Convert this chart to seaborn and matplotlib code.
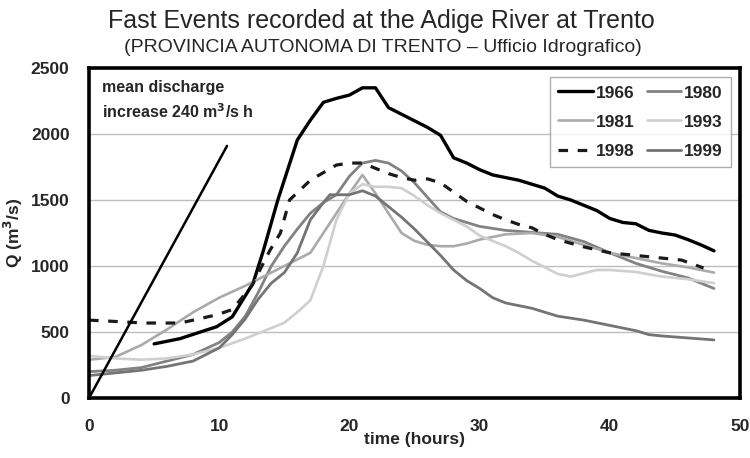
import numpy as np
import pandas as pd
import matplotlib
matplotlib.use("Agg")
import matplotlib.pyplot as plt
import seaborn as sns

# values (time in hours, Q in m3/s)
t_1966 = [5, 7, 9.8, 11, 12.6, 13.4, 14.5, 16, 17, 18, 19, 20, 21, 22, 23, 24, 25, 26, 27, 28, 29, 30, 31, 32, 33, 34, 35, 36, 37, 38, 39, 40, 41, 42, 43, 44, 45, 46, 47, 48]
q_1966 = [410, 450, 540, 615, 870, 1120, 1500, 1955, 2105, 2240, 2270, 2295, 2350, 2350, 2200, 2150, 2100, 2050, 1990, 1820, 1780, 1730, 1690, 1670, 1650, 1620, 1590, 1530, 1500, 1460, 1420, 1360, 1330, 1320, 1270, 1250, 1235, 1200, 1160, 1115]

t_1980 = [0, 2, 4, 6, 8, 10, 11, 12, 13, 14, 15, 16, 17, 18, 19, 20, 21, 22, 23, 24, 25, 26, 27, 28, 29, 30, 32, 34, 36, 38, 40, 42, 44, 46, 48]
q_1980 = [200, 210, 230, 280, 330, 420, 500, 620, 800, 1000, 1150, 1280, 1400, 1480, 1540, 1680, 1780, 1800, 1780, 1720, 1630, 1520, 1410, 1360, 1330, 1300, 1270, 1255, 1240, 1185, 1100, 1020, 960, 910, 830]

t_1981 = [0, 2, 4, 6, 8, 10, 12, 14, 16, 17, 18, 19, 20, 21, 22, 23, 24, 25, 26, 27, 28, 29, 30, 32, 34, 36, 38, 40, 42, 44, 46, 48]
q_1981 = [290, 310, 400, 520, 650, 760, 850, 950, 1050, 1100, 1250, 1400, 1550, 1690, 1550, 1400, 1250, 1190, 1160, 1150, 1150, 1170, 1200, 1240, 1250, 1220, 1160, 1100, 1060, 1020, 990, 950]

t_1993 = [0, 2, 4, 6, 8, 10, 12, 14, 15, 16, 17, 18, 19, 20, 21, 22, 23, 24, 25, 26, 27, 28, 29, 30, 31, 32, 33, 34, 35, 36, 37, 38, 39, 40, 42, 44, 46, 48]
q_1993 = [320, 300, 290, 300, 330, 380, 450, 530, 570, 650, 740, 1000, 1350, 1550, 1620, 1600, 1600, 1590, 1530, 1460, 1400, 1350, 1300, 1230, 1190, 1150, 1100, 1040, 990, 940, 920, 945, 970, 970, 955, 920, 900, 870]

t_1998 = [0, 2, 4.2, 7, 9.8, 11, 12.5, 13.9, 14.7, 15.4, 17, 19, 20, 21, 22, 23, 24, 25, 26, 27, 28, 29, 30, 31, 32, 33, 34, 35, 36, 38, 40, 43, 45.5, 47.2]
q_1998 = [590, 580, 568, 568, 630, 670, 850, 1120, 1250, 1500, 1650, 1765, 1780, 1780, 1740, 1700, 1670, 1650, 1660, 1630, 1560, 1490, 1440, 1390, 1350, 1315, 1290, 1240, 1200, 1145, 1100, 1070, 1045, 985]

t_1999 = [0, 2, 4, 6, 8, 10, 11, 12, 13, 14, 15, 16, 17, 18, 18.5, 20, 21, 22, 23, 24, 25, 26, 27, 28, 29, 30, 31, 32, 34, 36, 38, 40, 42, 43, 44, 46, 48]
q_1999 = [170, 190, 210, 240, 280, 380, 480, 600, 750, 870, 950, 1100, 1350, 1480, 1540, 1540, 1570, 1530, 1450, 1370, 1280, 1180, 1080, 970, 890, 830, 760, 720, 680, 620, 590, 550, 510, 480, 470, 455, 440]

t_mean = [0, 10.6]
q_mean = [0, 1910]

years = ["1966", "1980", "1981", "1993", "1998", "1999"]
series_t = [t_1966, t_1980, t_1981, t_1993, t_1998, t_1999]
series_q = [q_1966, q_1980, q_1981, q_1993, q_1998, q_1999]

rows = []
for y, tt, qq in zip(years, series_t, series_q):
    for a, b in zip(tt, qq):
        rows.append({"year": y, "time": a, "Q": b})
df = pd.DataFrame(rows)

colors = {"1966": "#000000", "1980": "#828282", "1981": "#aaaaaa",
          "1993": "#cfcfcf", "1998": "#1a1a1a", "1999": "#747474"}
widths = {"1966": 2.4, "1980": 2.0, "1981": 1.9, "1993": 1.9, "1998": 2.3, "1999": 2.0}

sns.set_style("white")
plt.rcParams['font.family'] = ['Liberation Sans', 'DejaVu Sans']

fig = plt.figure(figsize=(7.5, 4.58), dpi=100)
ax = fig.add_axes([0.1187, 0.131, 0.868, 0.7205])

ax.yaxis.grid(True, color="#bdbdbd", lw=1.0)
ax.set_axisbelow(True)

for y in years:
    d = df[df["year"] == y]
    ls = (0, (3, 3)) if y == "1998" else "-"
    sns.lineplot(data=d, x="time", y="Q", ax=ax, color=colors[y], lw=widths[y],
                 linestyle=ls, label=y, sort=False, estimator=None)

ax.plot(t_mean, q_mean, color="black", lw=1.8)

ax.set_xlim(0, 50)
ax.set_ylim(0, 2500)
ax.set_xticks(np.arange(0, 51, 10))
ax.set_yticks(np.arange(0, 2501, 500))
ax.tick_params(axis="both", labelsize=12.5, direction="out", length=4, width=1, color="#999999")
ax.tick_params(axis="x", pad=11)
ax.tick_params(axis="y", pad=10)
for lab in ax.get_xticklabels() + ax.get_yticklabels():
    lab.set_fontweight("bold")
for s in ax.spines.values():
    s.set_linewidth(2.6)
    s.set_color("black")

ax.set_xlabel("time (hours)", fontsize=12.5, fontweight="bold", labelpad=-1)
ax.set_ylabel("Q (m$\\mathbf{^3}$/s)", fontsize=12.5, fontweight="bold", labelpad=4)

ax.text(1.0, 2356, "mean discharge", fontsize=11.5, fontweight="bold", va="center")
ax.text(1.0, 2167, "increase 240 m$\\mathbf{^3}$/s h", fontsize=11.5, fontweight="bold", va="center")

h, l = ax.get_legend_handles_labels()
order = ["1966", "1981", "1998", "1980", "1993", "1999"]
hh = [h[l.index(o)] for o in order]
leg = ax.legend(hh, order, loc="upper right", ncol=2, fontsize=12.5, frameon=True,
                fancybox=False, edgecolor="#999999", handlelength=2.0, handletextpad=0.15,
                columnspacing=0.7, borderaxespad=0.5, labelspacing=0.8, borderpad=0.5)
for t in leg.get_texts():
    t.set_fontweight("bold")
leg.get_frame().set_linewidth(1.0)

fig.text(0.508, 0.955, "Fast Events recorded at the Adige River at Trento", ha="center", va="center", fontsize=18)
fig.text(0.51, 0.897, "(PROVINCIA AUTONOMA DI TRENTO \u2013 Ufficio Idrografico)", ha="center", va="center", fontsize=14)

fig.savefig("out.png", dpi=100)
